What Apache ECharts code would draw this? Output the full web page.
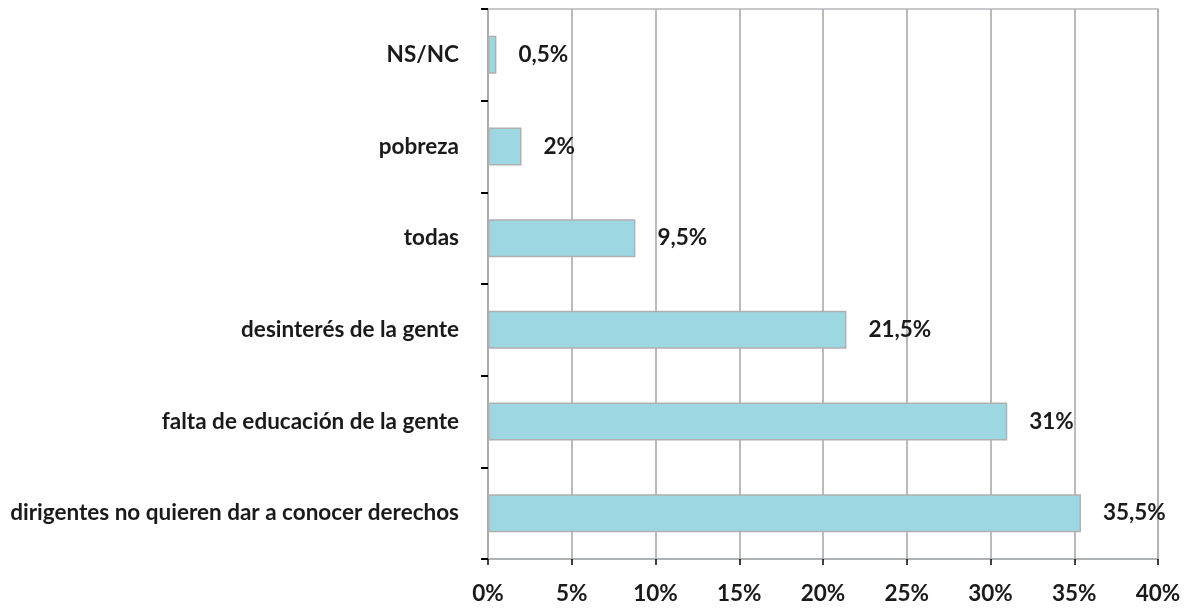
<!DOCTYPE html>
<html>
<head>
<meta charset="utf-8">
<title>chart</title>
<script src="https://cdn.jsdelivr.net/npm/echarts@6/dist/echarts.min.js"></script>
<style>
  html, body { margin: 0; padding: 0; background: #fff; }
  #myChart { width: 1191px; height: 611px; }
</style>
</head>
<body>
<div id="myChart"></div>
<script>
// categories from bottom to top (category axis starts at the bottom)
var categories = [
  'dirigentes no quieren dar a conocer derechos',
  'falta de educación de la gente',
  'desinterés de la gente',
  'todas',
  'pobreza',
  'NS/NC'
]
// bar lengths as drawn in the picture (%)
var values = [35.4, 31, 21.4, 8.8, 2, 0.5]
// printed labels next to the bars
var valueLabels = ['35,5%', '31%', '21,5%', '9,5%', '2%', '0,5%']
var xTicks = [0, 5, 10, 15, 20, 25, 30, 35, 40]

var font = 'Lato'
var fsize = 22.5
var myChart = echarts.init(document.getElementById('myChart'))

myChart.setOption({
  animation: false,
  grid: {
    left: 488,
    right: 33,
    top: 9,
    bottom: 52,
    show: true,
    borderColor: '#b4b7ba',
    borderWidth: 1.5
  },
  xAxis: {
    type: 'value',
    min: xTicks[0],
    max: xTicks[xTicks.length - 1],
    interval: 5,
    axisLine: { show: true, lineStyle: { color: '#a9acaf', width: 1.5 } },
    axisTick: { show: true, length: 6, lineStyle: { color: '#000', width: 1.5 } },
    splitLine: { show: true, lineStyle: { color: '#b1b4b7', width: 1.8 } },
    axisLabel: {
      margin: 23,
      fontFamily: font,
      fontWeight: 'bold',
      fontSize: fsize,
      color: '#1a1a1a',
      formatter: function (v) { return v + '%' }
    }
  },
  yAxis: {
    type: 'category',
    data: categories,
    axisLine: { show: true, lineStyle: { color: '#a9acaf', width: 1.5 } },
    axisTick: { show: true, length: 7, lineStyle: { color: '#000', width: 2 } },
    splitLine: { show: false },
    axisLabel: {
      margin: 29,
      fontFamily: font,
      fontWeight: 'bold',
      fontSize: fsize,
      color: '#1a1a1a'
    }
  },
  series: [
    {
      type: 'bar',
      barWidth: 38,
      data: values,
      itemStyle: {
        color: '#9dd7e2',
        borderColor: '#b0b0b0',
        borderWidth: 1.5
      },
      label: {
        show: true,
        position: 'right',
        distance: 22,
        fontFamily: font,
        fontWeight: 'bold',
        fontSize: fsize,
        color: '#1a1a1a',
        formatter: function (p) { return valueLabels[p.dataIndex] }
      }
    }
  ]
})
</script>
</body>
</html>
